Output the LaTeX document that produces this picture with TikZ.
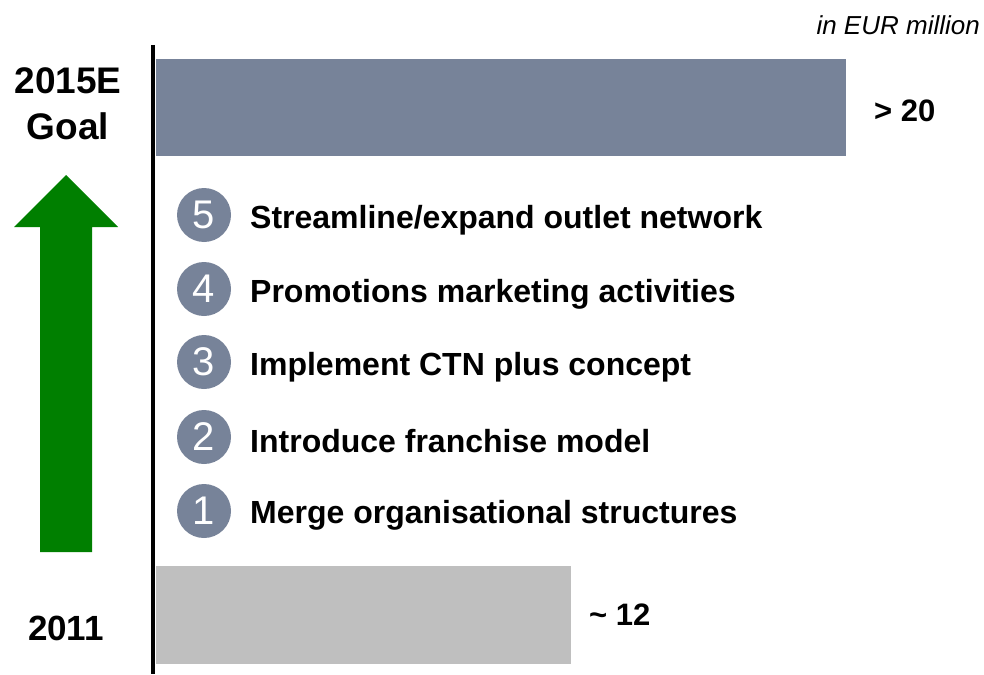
\documentclass[tikz,border=0pt]{standalone}
\usepackage{fontspec}
\setmainfont{Liberation Sans}
\definecolor{slate}{HTML}{778399}
\definecolor{lgray}{HTML}{BFBFBF}
\definecolor{dgreen}{HTML}{007F00}
\begin{document}
\begin{tikzpicture}[x=1pt,y=-1pt,
  numcirc/.style={circle,fill=slate,minimum size=54pt,inner sep=0pt,text=white,font=\fontsize{40}{40}\selectfont},
  item/.style={anchor=west,inner sep=0pt,font=\bfseries\fontsize{32}{32}\selectfont},
  lab/.style={inner sep=0pt,font=\bfseries\fontsize{37}{46}\selectfont,align=center},
  val/.style={anchor=west,inner sep=0pt,font=\bfseries\fontsize{31}{31}\selectfont}]
\useasboundingbox (0,0) rectangle (984,674);
% bars
\fill[slate] (156,59) rectangle (846,156);
\fill[lgray] (156,566) rectangle (571,664);
% axis
\coordinate (axtop) at (153,45);
\coordinate (axbot) at (153,674);
\draw[line width=4pt] (axtop) -- (axbot);
% arrow
\fill[dgreen] (40,552) -- (40,227) -- (14,227) -- (66,175) -- (118,227) -- (92,227) -- (92,552) -- cycle;
% labels
\node[lab] (goal) at (68,104) {2015E\\Goal};
\node[lab,font=\bfseries\fontsize{35}{35}\selectfont] (y2011) at (66,628) {2011};
\node[val] (v20) at (874,111) {> 20};
\node[val] (v12) at (589,615) {\textasciitilde{} 12};
\node[anchor=east,inner sep=0pt,font=\itshape\fontsize{26}{26}\selectfont] (unit) at (980,25) {in EUR million};
% items
\node[numcirc] (c5) at (204,215) {5};
\node[numcirc] (c4) at (204,289) {4};
\node[numcirc] (c3) at (204,362) {3};
\node[numcirc] (c2) at (204,437) {2};
\node[numcirc] (c1) at (204,511) {1};
\node[item] (t5) at (250,220) {Streamline/expand outlet network};
\node[item] (t4) at (250,294) {Promotions marketing activities};
\node[item] (t3) at (250,367) {Implement CTN plus concept};
\node[item] (t2) at (250,441) {Introduce franchise model};
\node[item] (t1) at (250,515) {Merge organisational structures};
\end{tikzpicture}
\end{document}
